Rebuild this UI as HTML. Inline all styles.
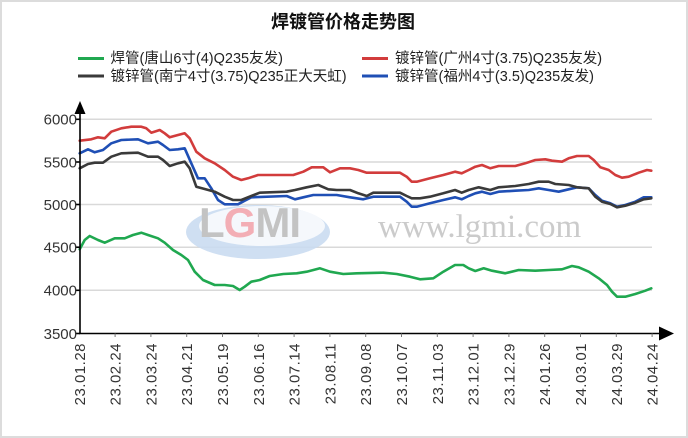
<!DOCTYPE html>
<html>
<head>
<meta charset="utf-8">
<style>
  html,body{margin:0;padding:0;background:#fff;}
  svg{display:block;}
  text{font-family:"Liberation Sans","Noto Sans CJK SC",sans-serif;}
</style>
</head>
<body>
<svg width="688" height="438" viewBox="0 0 688 438" xmlns="http://www.w3.org/2000/svg">
  <rect x="1" y="1" width="686" height="436" fill="#fff" stroke="#dcdcdc" stroke-width="2"/>

  <!-- Title -->
  <text x="343" y="28" text-anchor="middle" font-size="18" font-weight="bold" fill="#111">焊镀管价格走势图</text>

  <!-- Legend -->
  <line x1="78" y1="58.5" x2="104" y2="58.5" stroke="#20a850" stroke-width="3"/>
  <text x="110.5" y="63" font-size="14.5" fill="#222">焊管(唐山6寸(4)Q235友发)</text>
  <line x1="362" y1="58.5" x2="388" y2="58.5" stroke="#d23c3c" stroke-width="3"/>
  <text x="395" y="63" font-size="14.5" fill="#222">镀锌管(广州4寸(3.75)Q235友发)</text>
  <line x1="78" y1="76" x2="104" y2="76" stroke="#3a3a3a" stroke-width="3"/>
  <text x="110.5" y="81" font-size="14.5" fill="#222">镀锌管(南宁4寸(3.75)Q235正大天虹)</text>
  <line x1="362" y1="76" x2="388" y2="76" stroke="#1f4fb5" stroke-width="3"/>
  <text x="395" y="81" font-size="14.5" fill="#222">镀锌管(福州4寸(3.5)Q235友发)</text>

  <!-- Gridlines -->
  <g stroke="#d9d9d9" stroke-width="1.5">
    <line x1="80" y1="119.3" x2="652" y2="119.3"/>
    <line x1="80" y1="162" x2="652" y2="162"/>
    <line x1="80" y1="204.5" x2="652" y2="204.5"/>
    <line x1="80" y1="247.2" x2="652" y2="247.2"/>
    <line x1="80" y1="290.3" x2="652" y2="290.3"/>
  </g>

  <!-- Watermark -->
  <g opacity="0.9">
    <ellipse cx="258" cy="232" rx="72" ry="27" fill="#cadcf1"/>
    <ellipse cx="262" cy="226" rx="63" ry="20" fill="#f4f8fc"/>
    <text x="199" y="237" font-size="42" font-weight="bold" fill="#bdbdbd" letter-spacing="-1"><tspan>L</tspan><tspan fill="#f2a6ae">G</tspan><tspan>MI</tspan></text>
    <text x="378" y="237" style="font-family:'Liberation Serif',serif;font-size:33px;" fill="#c6c6c6">www.lgmi.com</text>
  </g>

  <!-- Series -->
  <g fill="none" stroke-width="2.6" stroke-linejoin="round" stroke-linecap="round">
    <polyline stroke="#20a850" points="79.7,249.3 84.7,240 89.7,236 98,240 104.7,242.7 114.7,238.3 124.7,238.3 133,235 141.3,232.7 148,235 158,238.3 164.7,242.7 173,250 181.3,255 188,260 194.7,271.7 203,280 214.7,285 224.7,285 233,286 239.7,290 244.7,286.7 251.3,281.7 259.7,280 269.7,276 283.3,274 296.7,273.3 306.7,271.7 320,268.3 330,271.7 343.3,274 356.7,273.3 383.3,272.7 396.7,274 410,276.7 420,279.3 433.3,278.3 443.3,271.7 455,265 463.3,265 468.7,268.3 475.3,271 483.7,268.3 492,270.7 505.3,273.3 518.7,270 535.3,270.7 548.7,270 562,269.3 572,266 578.7,267.3 588.7,271.7 598.7,278.3 607,285 612,291.7 617,296.7 625.3,296.7 635.3,294 645.3,290.7 651.3,288.3"/>
    <polyline stroke="#d23c3c" points="79.7,140.7 91.3,139.3 98,137.3 104.7,138.3 111.3,131.7 121.3,128.3 131.3,126.7 141.3,126.7 146.3,128.3 151.3,132.7 159.7,130 164.7,133.3 169.7,137.3 178,135 184.7,133.3 189.7,138.3 196.3,151.7 204.7,158.3 214.7,163.3 224.7,170 233,176.7 241.3,180 248,178.3 258,175 293.3,175 303.3,171.7 311.7,167.3 323.3,167.3 330,172.3 340,168.3 350,168.3 358.3,170 366.7,172.7 400,172.7 406.7,176.7 411.7,181.7 416.7,181.7 430,178.3 443.3,175 455,171.7 461.7,173.3 468.7,170 475.3,166.7 482,165 490.3,168.3 498.7,166 515.3,166 525.3,163.3 535.3,160 545.3,159.3 552,160.7 562,161.7 568.7,158.3 577,156 588.7,156 593.7,160 600.3,167.3 608.7,170 615.3,175 622,177.7 628.7,176.7 638.7,172.7 647,170 651.3,170.7"/>
    <polyline stroke="#1f4fb5" points="79.7,153.3 88,149.3 94.7,152.3 103,150 111.3,143.3 121.3,140 138,139.3 148,143.3 158,141.7 163,145 169.7,150 178,149.3 184.7,148.3 191.3,163.3 198,178.3 204.7,178.3 211.3,188.3 218,200 224.7,204.3 238,204.3 244.7,200.7 251.3,197.3 286.7,196 295,199.3 303.3,197.3 313.3,195 336.7,195 350,197.3 363.3,199.3 373.3,196.7 400,196.7 406.7,201.7 411.7,206.7 416.7,206.7 430,203.3 443.3,200 455,197.3 461.7,199.3 468.7,196 475.3,193.3 482,191.7 490.3,194 498.7,191.7 515.3,190.7 528.7,190 538.7,188.3 548.7,190 558.7,191.7 568.7,189.3 577,187.3 588.7,188.3 595.3,195 602,200.7 610.3,203.3 617,206.7 625.3,205 635.3,201.7 643.7,197.3 651.3,197.3"/>
    <polyline stroke="#3a3a3a" points="79.7,168.3 88,164 94.7,162.7 103,162.7 111.3,156.7 121.3,153.3 138,152.7 148,156.7 158,156.7 163,160 169.7,166 178,163.3 184.7,161.7 189.7,168.3 196.3,186.7 204.7,189 214.7,191.7 224.7,196.7 233,200 241.3,200 251.3,196 259.7,192.7 286.7,191.7 295,190 306.7,187.3 318.3,185 328.3,189.3 336.7,190 350,190 358.3,193.3 366.7,196 373.3,192.7 400,192.7 406.7,196 411.7,198.3 420,198.3 430,196.7 443.3,193.3 455,190 461.7,192.7 468.7,190 478.7,187.3 490.3,190 498.7,187.3 515.3,186 528.7,184 538.7,181.7 548.7,181.7 555.3,184 568.7,185 577,187.3 588.7,188.3 595.3,196.7 602,201.7 610.3,204 617,207.3 625.3,205.7 635.3,202.7 643.7,199.3 651.3,198.3"/>
  </g>

  <!-- Axes -->
  <g stroke="#000" stroke-width="1.6">
    <line x1="80" y1="110" x2="80" y2="334"/>
    <line x1="79.2" y1="333.5" x2="662" y2="333.5"/>
    <line x1="76" y1="119.3" x2="80" y2="119.3"/>
    <line x1="76" y1="162" x2="80" y2="162"/>
    <line x1="76" y1="204.5" x2="80" y2="204.5"/>
    <line x1="76" y1="247.2" x2="80" y2="247.2"/>
    <line x1="76" y1="290.3" x2="80" y2="290.3"/>
    <line x1="76" y1="333.5" x2="80" y2="333.5"/>
  </g>
  <g stroke="#777" stroke-width="1">
    <line x1="115.1" y1="333.5" x2="115.1" y2="337"/>
    <line x1="150.9" y1="333.5" x2="150.9" y2="337"/>
    <line x1="186.7" y1="333.5" x2="186.7" y2="337"/>
    <line x1="222.5" y1="333.5" x2="222.5" y2="337"/>
    <line x1="258.3" y1="333.5" x2="258.3" y2="337"/>
    <line x1="294.1" y1="333.5" x2="294.1" y2="337"/>
    <line x1="329.9" y1="333.5" x2="329.9" y2="337"/>
    <line x1="365.7" y1="333.5" x2="365.7" y2="337"/>
    <line x1="401.5" y1="333.5" x2="401.5" y2="337"/>
    <line x1="437.3" y1="333.5" x2="437.3" y2="337"/>
    <line x1="473.1" y1="333.5" x2="473.1" y2="337"/>
    <line x1="508.9" y1="333.5" x2="508.9" y2="337"/>
    <line x1="544.7" y1="333.5" x2="544.7" y2="337"/>
    <line x1="580.5" y1="333.5" x2="580.5" y2="337"/>
    <line x1="616.3" y1="333.5" x2="616.3" y2="337"/>
    <line x1="652.1" y1="333.5" x2="652.1" y2="337"/>
  </g>
  <polygon points="80,101 74.5,114 85.5,114" fill="#000"/>
  <polygon points="674,333.5 659,326.5 659,340.5" fill="#000"/>

  <!-- Y labels -->
  <g font-size="15" fill="#333" text-anchor="end">
    <text x="77" y="124.6">6000</text>
    <text x="77" y="167.3">5500</text>
    <text x="77" y="209.8">5000</text>
    <text x="77" y="252.5">4500</text>
    <text x="77" y="295.6">4000</text>
    <text x="77" y="338.8">3500</text>
  </g>

  <!-- X labels -->
  <g font-size="15" fill="#333" text-anchor="end" letter-spacing="0.5">
    <text transform="translate(84.8,343) rotate(-90)">23.01.28</text>
    <text transform="translate(120.6,343) rotate(-90)">23.02.24</text>
    <text transform="translate(156.4,343) rotate(-90)">23.03.24</text>
    <text transform="translate(192.2,343) rotate(-90)">23.04.21</text>
    <text transform="translate(228,343) rotate(-90)">23.05.19</text>
    <text transform="translate(263.8,343) rotate(-90)">23.06.16</text>
    <text transform="translate(299.6,343) rotate(-90)">23.07.14</text>
    <text transform="translate(335.4,343) rotate(-90)">23.08.11</text>
    <text transform="translate(371.2,343) rotate(-90)">23.09.08</text>
    <text transform="translate(407,343) rotate(-90)">23.10.07</text>
    <text transform="translate(442.8,343) rotate(-90)">23.11.03</text>
    <text transform="translate(478.6,343) rotate(-90)">23.12.01</text>
    <text transform="translate(514.4,343) rotate(-90)">23.12.29</text>
    <text transform="translate(550.2,343) rotate(-90)">24.01.26</text>
    <text transform="translate(586,343) rotate(-90)">24.03.01</text>
    <text transform="translate(621.8,343) rotate(-90)">24.03.29</text>
    <text transform="translate(657.6,343) rotate(-90)">24.04.24</text>
  </g>
</svg>
</body>
</html>
